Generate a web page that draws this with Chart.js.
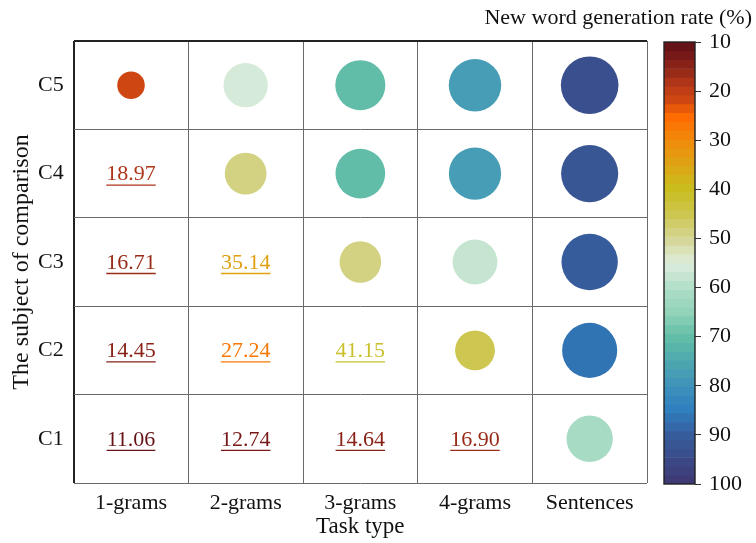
<!DOCTYPE html>
<html>
<head>
<meta charset="utf-8">
<script src="https://cdn.jsdelivr.net/npm/chart.js@4/dist/chart.umd.min.js"></script>
<style>
  html, body { margin: 0; padding: 0; background: #fff; }
  #wrap { position: relative; width: 756px; height: 543px; }
  #main { position: absolute; left: 0; top: 0; }
  #cbar { position: absolute; left: 650px; top: 0; }
</style>
</head>
<body>
<div id="wrap">
  <canvas id="main" width="756" height="543"></canvas>
  <canvas id="cbar" width="106" height="543"></canvas>
</div>
<script>
// Categories
const taskTypes = ['1-grams', '2-grams', '3-grams', '4-grams', 'Sentences'];
const subjects = ['C5', 'C4', 'C3', 'C2', 'C1'];

// New word generation rate (%) shown as circles (rows C5..C1)
const circleRates = [
  [21.5, 55.5, 71, 78, 94],
  [null, 49.5, 70, 77.5, 92.5],
  [null, null, 49, 57, 90],
  [null, null, null, 45, 86],
  [null, null, null, null, 61]
];

// New word generation rate (%) written as numbers (rows C5..C1)
const labelRates = [
  [null, null, null, null, null],
  [18.97, null, null, null, null],
  [16.71, 35.14, null, null, null],
  [14.45, 27.24, 41.15, null, null],
  [11.06, 12.74, 14.64, 16.90, null]
];

// Colour bar range and ticks
const cbarMin = 10;
const cbarMax = 100;
const cbarTicks = [10, 20, 30, 40, 50, 60, 70, 80, 90, 100];

// Colour map stops (value, colour)
const cmapStops = [
  [10, '#5E1018'], [13, '#7A1A18'], [16, '#962A18'], [19, '#B83A18'], [22, '#D04812'],
  [25, '#FF6A00'], [30, '#F08A0C'], [35, '#DDA414'], [40, '#C9BE1E'], [45, '#CDC650'],
  [50, '#D5D694'], [55, '#DDEDDC'], [60, '#B0DEC8'], [65, '#92D3BA'], [70, '#62BEA6'],
  [75, '#4DA8B0'], [80, '#3E92BA'], [85, '#2F7EBE'], [90, '#365C9C'], [95, '#3C4A88'],
  [100, '#3F3772']
];
const nBands = 50;

const FONT = "'Liberation Serif', 'Times New Roman', serif";
Chart.defaults.font.family = FONT;
Chart.defaults.color = '#111';

function hexToRgb(h) {
  const n = parseInt(h.slice(1), 16);
  return [(n >> 16) & 255, (n >> 8) & 255, n & 255];
}
function smoothColor(v) {
  v = Math.max(cbarMin, Math.min(cbarMax, v));
  for (let i = 0; i < cmapStops.length - 1; i++) {
    const [v0, c0] = cmapStops[i];
    const [v1, c1] = cmapStops[i + 1];
    if (v >= v0 && v <= v1) {
      const t = (v - v0) / (v1 - v0);
      const a = hexToRgb(c0), b = hexToRgb(c1);
      const m = a.map((x, k) => Math.round(x + (b[k] - x) * t));
      return `rgb(${m[0]},${m[1]},${m[2]})`;
    }
  }
  return cmapStops[cmapStops.length - 1][1];
}
// Discrete colour map: each value takes the colour of its band centre
const bandSize = (cbarMax - cbarMin) / nBands;
function cmap(v) {
  let b = Math.floor((v - cbarMin) / bandSize);
  b = Math.max(0, Math.min(nBands - 1, b));
  return smoothColor(cbarMin + (b + 0.5) * bandSize);
}

// Bubble points built from the circle table
const points = [];
circleRates.forEach((row, r) => row.forEach((v, c) => {
  if (v != null) points.push({ x: taskTypes[c], y: subjects[r], v: v });
}));

const gridColor = ctx => (ctx.index === 0 || ctx.index === 5) ? '#222' : '#6a6a6a';
const gridWidth = ctx => (ctx.index === 0 || ctx.index === 5) ? 2 : 1;

// Underlined numbers in the lower-left cells
const valueLabels = {
  id: 'valueLabels',
  afterDatasetsDraw(chart) {
    const { ctx, scales: { x, y } } = chart;
    ctx.save();
    ctx.font = `22px ${FONT}`;
    ctx.textAlign = 'center';
    ctx.textBaseline = 'middle';
    labelRates.forEach((row, r) => row.forEach((v, c) => {
      if (v == null) return;
      const px = x.getPixelForValue(c);
      const py = y.getPixelForValue(r);
      const txt = v.toFixed(2);
      const col = cmap(v);
      ctx.fillStyle = col;
      ctx.fillText(txt, px, py + 1);
      const w = ctx.measureText(txt).width;
      ctx.strokeStyle = col;
      ctx.lineWidth = 1.3;
      ctx.beginPath();
      ctx.moveTo(px - w / 2, py + 11.5);
      ctx.lineTo(px + w / 2, py + 11.5);
      ctx.stroke();
    }));
    ctx.restore();
  }
};

// Colour bar caption in the top right corner
const cbarCaption = {
  id: 'cbarCaption',
  afterDraw(chart) {
    const ctx = chart.ctx;
    ctx.save();
    ctx.font = `22px ${FONT}`;
    ctx.fillStyle = '#111';
    ctx.textAlign = 'right';
    ctx.textBaseline = 'middle';
    ctx.fillText('New word generation rate (%)', 752, 18);
    ctx.restore();
  }
};

new Chart(document.getElementById('main'), {
  type: 'bubble',
  data: {
    datasets: [{
      data: points,
      backgroundColor: ctx => cmap(ctx.raw.v),
      borderWidth: 0,
      radius: ctx => 2.97 * Math.sqrt(ctx.raw.v),
      hoverRadius: 0
    }]
  },
  options: {
    responsive: false,
    animation: false,
    events: [],
    layout: { padding: { left: 8, right: 109, top: 41, bottom: 4 } },
    plugins: {
      legend: { display: false },
      tooltip: { enabled: false }
    },
    scales: {
      x: {
        type: 'category',
        labels: taskTypes,
        offset: true,
        grid: { offset: true, drawTicks: false, color: gridColor, lineWidth: gridWidth },
        border: { display: false },
        ticks: { padding: 8, font: { size: 22, lineHeight: '24px' }, color: '#111' },
        title: { display: true, text: 'Task type', font: { size: 23, lineHeight: '24px' }, color: '#111', padding: { top: -8, bottom: 0 } }
      },
      y: {
        type: 'category',
        labels: subjects,
        offset: true,
        grid: { offset: true, drawTicks: false, color: gridColor, lineWidth: gridWidth },
        border: { display: false },
        ticks: { padding: 10, font: { size: 22 }, color: '#111' },
        title: { display: true, text: 'The subject of comparison', font: { size: 24, lineHeight: '28px' }, color: '#111', padding: { top: 0, bottom: -8 } }
      }
    }
  },
  plugins: [valueLabels, cbarCaption]
});

// Colour bar: one floating bar per colour band
const bandDatasets = [];
for (let b = 0; b < nBands; b++) {
  const lo = cbarMin + b * bandSize;
  bandDatasets.push({
    data: [[lo, lo + bandSize]],
    backgroundColor: cmap(lo + bandSize / 2),
    borderWidth: 0,
    grouped: false,
    barPercentage: 1,
    categoryPercentage: 1
  });
}

const cbarFrame = {
  id: 'cbarFrame',
  afterDatasetsDraw(chart) {
    const { ctx, chartArea: a } = chart;
    ctx.save();
    ctx.strokeStyle = '#222';
    ctx.lineWidth = 1.4;
    ctx.strokeRect(a.left, a.top, a.right - a.left, a.bottom - a.top);
    ctx.restore();
  }
};

new Chart(document.getElementById('cbar'), {
  type: 'bar',
  data: { labels: [''], datasets: bandDatasets },
  options: {
    responsive: false,
    animation: false,
    events: [],
    layout: { padding: { left: 14, right: 11, top: 42, bottom: 59 } },
    plugins: { legend: { display: false }, tooltip: { enabled: false } },
    scales: {
      x: { display: false },
      y: {
        type: 'linear',
        position: 'right',
        min: cbarMin,
        max: cbarMax,
        reverse: true,
        afterBuildTicks: s => { s.ticks = cbarTicks.map(v => ({ value: v })); },
        afterFit: s => { s.width = 50; },
        grid: { drawOnChartArea: false, tickLength: 6, color: '#333', lineWidth: 1 },
        border: { display: false },
        ticks: { padding: 8, font: { size: 22 }, color: '#111' }
      }
    }
  },
  plugins: [cbarFrame]
});
</script>
</body>
</html>
